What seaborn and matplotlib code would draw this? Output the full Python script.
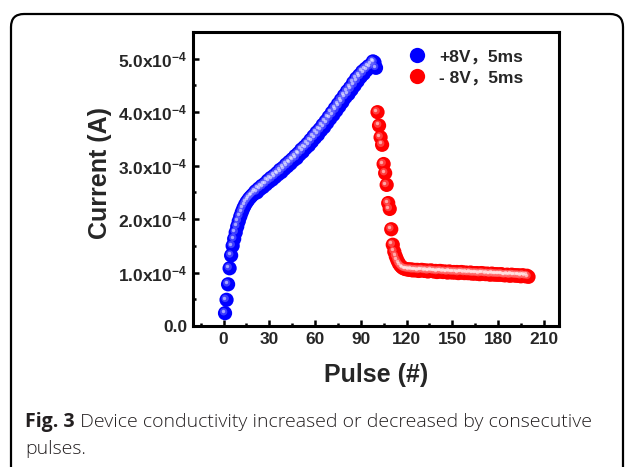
import numpy as np
import pandas as pd
import matplotlib
matplotlib.use("Agg")
import matplotlib.pyplot as plt
import matplotlib.transforms as mtransforms
from matplotlib.patches import FancyBboxPatch
from matplotlib.lines import Line2D
from matplotlib.ticker import MultipleLocator, FuncFormatter
import seaborn as sns

# ---------------- data (current in units of 1e-4 A) ----------------
set_pulses = list(range(1, 101))
set_current = [
    0.24, 0.49, 0.78, 1.08, 1.32, 1.50, 1.63, 1.75, 1.86, 1.96,
    2.05, 2.13, 2.20, 2.26, 2.31, 2.35, 2.39, 2.42, 2.45, 2.48,
    2.52, 2.50, 2.57, 2.56, 2.62, 2.60, 2.66, 2.65, 2.72, 2.70,
    2.77, 2.74, 2.81, 2.79, 2.86, 2.84, 2.92, 2.88, 2.96, 2.94,
    3.02, 2.99, 3.07, 3.04, 3.12, 3.10, 3.18, 3.14, 3.23, 3.21,
    3.30, 3.26, 3.35, 3.33, 3.41, 3.38, 3.48, 3.45, 3.55, 3.52,
    3.62, 3.58, 3.68, 3.66, 3.76, 3.72, 3.83, 3.80, 3.91, 3.88,
    3.99, 3.95, 4.07, 4.03, 4.15, 4.11, 4.23, 4.19, 4.31, 4.28,
    4.39, 4.34, 4.46, 4.42, 4.55, 4.50, 4.63, 4.58, 4.69, 4.66,
    4.76, 4.72, 4.81, 4.79, 4.86, 4.84, 4.90, 4.95, 4.93, 4.83,
]
reset_pulses = list(range(101, 201))
reset_current = [
    4.00, 3.75, 3.53, 3.39, 3.03, 2.86, 2.64, 2.30, 2.19, 1.81,
    1.52, 1.39, 1.30, 1.23, 1.17, 1.13, 1.10, 1.08, 1.07, 1.06,
    1.06, 1.05, 1.06, 1.04, 1.05, 1.04, 1.05, 1.03, 1.04, 1.05,
    1.04, 1.03, 1.04, 1.02, 1.03, 1.04, 1.03, 1.02, 1.03, 1.01,
    1.02, 1.03, 1.02, 1.01, 1.02, 1.01, 1.00, 1.02, 1.01, 1.00,
    1.01, 1.00, 1.01, 0.99, 1.00, 1.01, 1.00, 0.99, 1.00, 0.99,
    0.99, 1.00, 0.98, 0.99, 0.98, 0.99, 0.98, 0.97, 0.99, 0.98,
    0.98, 0.97, 0.98, 0.97, 0.96, 0.98, 0.97, 0.96, 0.97, 0.96,
    0.96, 0.97, 0.96, 0.95, 0.95, 0.96, 0.95, 0.94, 0.96, 0.95,
    0.95, 0.94, 0.95, 0.94, 0.93, 0.95, 0.94, 0.93, 0.94, 0.92,
]
series_labels = ["+8V，5ms", "- 8V，5ms"]
series_colors = ["#0000ff", "#ff0000"]
x_ticks = [0, 30, 60, 90, 120, 150, 180, 210]
caption_bold = "Fig. 3"
caption_rest = " Device conductivity increased or decreased by consecutive"
caption_line2 = "pulses."

df = pd.DataFrame({
    "pulse": set_pulses + reset_pulses,
    "current": [v * 1e-4 for v in set_current + reset_current],
    "series": [series_labels[0]] * len(set_pulses) + [series_labels[1]] * len(reset_pulses),
})

# ---------------- style ----------------
sns.set_theme(style="white")
plt.rcParams["font.family"] = ["Liberation Sans", "Noto Sans CJK SC", "DejaVu Sans"]
plt.rcParams["mathtext.fontset"] = "custom"
plt.rcParams["mathtext.rm"] = "Liberation Sans:bold"
plt.rcParams["mathtext.it"] = "Liberation Sans:bold"
plt.rcParams["mathtext.bf"] = "Liberation Sans:bold"
plt.rcParams["mathtext.sf"] = "Liberation Sans:bold"

fig = plt.figure(figsize=(6.27, 4.67), dpi=100)
ax = fig.add_axes([193 / 627, 1 - 326 / 467, 366 / 627, 294 / 467])

palette = dict(zip(series_labels, series_colors))
sns.scatterplot(data=df, x="pulse", y="current", hue="series", palette=palette,
                s=105, linewidth=0, legend=False, ax=ax, zorder=3)

# glossy highlights
off1 = mtransforms.offset_copy(ax.transData, fig=fig, x=-1.4, y=1.4, units="dots")
off2 = mtransforms.offset_copy(ax.transData, fig=fig, x=-2.3, y=2.3, units="dots")
light_palette = {series_labels[0]: "#6f6fff", series_labels[1]: "#ff7070"}
sns.scatterplot(data=df, x="pulse", y="current", hue="series", palette=light_palette,
                s=28, linewidth=0, alpha=0.55, legend=False, ax=ax,
                transform=off1, zorder=4)
sns.scatterplot(data=df, x="pulse", y="current", color="white",
                s=6, linewidth=0, alpha=0.55, legend=False, ax=ax,
                transform=off2, zorder=5)

ax.set_xlim(-20, 220)
ax.set_ylim(0, 5.5e-4)
ax.xaxis.set_major_locator(plt.FixedLocator(x_ticks))
ax.xaxis.set_minor_locator(MultipleLocator(15))
ax.yaxis.set_major_locator(MultipleLocator(1e-4))
ax.yaxis.set_minor_locator(MultipleLocator(0.5e-4))


def yfmt(v, pos):
    if abs(v) < 1e-12:
        return "0.0"
    return r"%.1fx10$^{-4}$" % (v * 1e4)


ax.yaxis.set_major_formatter(FuncFormatter(yfmt))

for sp in ax.spines.values():
    sp.set_linewidth(2.2)
    sp.set_color("black")
ax.tick_params(which="both", direction="in", color="black", width=1.8,
               labelsize=12.5, pad=4)
ax.tick_params(which="major", length=4.5)
ax.tick_params(which="minor", length=2.5)
ax.tick_params(axis="both", which="both", top=False, right=False,
               bottom=True, left=True)
for lab in ax.get_xticklabels() + ax.get_yticklabels():
    lab.set_fontweight("bold")

ax.set_xlabel("Pulse (#)", fontsize=18, fontweight="bold", va="center")
ax.set_ylabel("Current (A)", fontsize=18, fontweight="bold", va="center")
ax.xaxis.set_label_coords(0.5, -0.167)
ax.yaxis.set_label_coords(-0.254, 0.52)

handles = [Line2D([], [], marker="o", ls="", color=c, markersize=11, markeredgewidth=0)
           for c in series_colors]
leg = ax.legend(handles, series_labels, loc="upper left", bbox_to_anchor=(0.545, 0.995),
                frameon=False, handlelength=1.0, handletextpad=0.8, labelspacing=0.35,
                prop={"weight": "bold", "size": 12.5,
                      "family": ["Liberation Sans", "Noto Sans CJK SC"]})

# outer rounded frame (display pixel coords)
frame = FancyBboxPatch((11, -30), 612, 467 - 14 + 30,
                       boxstyle="round,pad=0,rounding_size=13",
                       transform=mtransforms.IdentityTransform(),
                       facecolor="none", edgecolor="black", linewidth=1.6,
                       clip_on=False)
fig.add_artist(frame)

# caption
cap_family = ["Open Sans", "DejaVu Sans"]
t1 = fig.text(25 / 627, 1 - 427 / 467, caption_bold, fontsize=14, fontweight="bold",
              family=cap_family, color="#231f20", va="baseline", ha="left")
fig.canvas.draw()
bb = t1.get_window_extent()
fig.text(bb.x1 / 627, 1 - 427 / 467, caption_rest, fontsize=14, fontweight="light",
         family=cap_family, color="#231f20", va="baseline", ha="left")
fig.text(25 / 627, 1 - 454 / 467, caption_line2, fontsize=14, fontweight="light",
         family=cap_family, color="#231f20", va="baseline", ha="left")

fig.savefig("out.png", dpi=100)
